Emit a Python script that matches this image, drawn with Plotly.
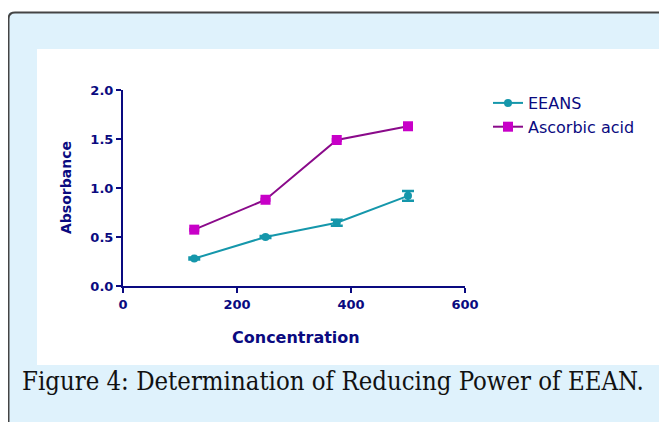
import plotly.graph_objects as go

concentration = [125, 250, 375, 500]
eeans = [0.28, 0.50, 0.645, 0.92]
eeans_err = [0.01, 0.01, 0.03, 0.05]
ascorbic = [0.575, 0.88, 1.49, 1.63]
ascorbic_err = [0.01, 0.01, 0.01, 0.01]
x_ticks = [0, 200, 400, 600]
y_ticks = [0.0, 0.5, 1.0, 1.5, 2.0]
y_tick_labels = ["0.0", "0.5", "1.0", "1.5", "2.0"]

NAVY = "#0a0a80"
TEAL = "#1597ab"
PURPLE = "#8a0a8a"
MAGENTA = "#c800c8"
BG = "#dff2fc"

OFF = 8  # page body margin
W, H = 667 - OFF, 422 - OFF
L, R, T, B = 123 - OFF, 465 - OFF, 90 - OFF, 286 - OFF
pw, ph = R - L, B - T

def px(x):
    return (x - OFF - L) / pw

def py(y):
    return (B - (y - OFF)) / ph

fig = go.Figure()
fig.add_trace(go.Scatter(
    x=concentration, y=eeans, name="EEANS", mode="lines+markers",
    line=dict(color=TEAL, width=2),
    marker=dict(symbol="circle", size=8, color=TEAL),
    error_y=dict(type="data", array=eeans_err, color=TEAL, thickness=2.5, width=6),
))
fig.add_trace(go.Scatter(
    x=concentration, y=ascorbic, name="Ascorbic acid", mode="lines+markers",
    line=dict(color=PURPLE, width=2),
    marker=dict(symbol="square", size=10, color=MAGENTA),
    error_y=dict(type="data", array=ascorbic_err, color=MAGENTA, thickness=2, width=5),
))

shapes = [
    # light blue box
    dict(type="rect", xref="paper", yref="paper", x0=px(8.5), x1=px(700), y0=py(440), y1=py(12.5),
         fillcolor=BG, line=dict(width=0), layer="below"),
    # white panel
    dict(type="rect", xref="paper", yref="paper", x0=px(37), x1=px(660), y0=py(365), y1=py(49),
         fillcolor="white", line=dict(width=0), layer="below"),
    # outer border (top + left with rounded corner)
    dict(type="path", xref="paper", yref="paper",
         path=f"M {px(8.5)},{py(440)} L {px(8.5)},{py(19)} Q {px(8.5)},{py(12.5)} {px(15)},{py(12.5)} L {px(700)},{py(12.5)}",
         line=dict(color="#444444", width=2), layer="below"),
]

annotations = [
    dict(text="<b>Concentration</b>", xref="paper", yref="paper", x=px(296), y=py(337),
         showarrow=False, font=dict(family="DejaVu Sans", size=16, color=NAVY),
         xanchor="center", yanchor="middle"),
    dict(text="<b>Absorbance</b>", xref="paper", yref="paper", x=px(66), y=py(188),
         showarrow=False, textangle=-90, font=dict(family="DejaVu Sans", size=14, color=NAVY),
         xanchor="center", yanchor="middle"),
    dict(text="Figure 4: Determination of Reducing Power of EEAN.", xref="paper", yref="paper",
         x=px(333), y=py(381), showarrow=False,
         font=dict(family="DejaVu Serif Condensed", size=25.5, color="#111111"),
         xanchor="center", yanchor="middle"),
]

axis_common = dict(
    showline=True, linecolor=NAVY, linewidth=2, ticks="outside", ticklen=5, tickwidth=2,
    tickcolor=NAVY, showgrid=False, zeroline=False, mirror=False,
    tickfont=dict(family="DejaVu Sans", size=13, color=NAVY, weight="bold"),
)

fig.update_layout(
    width=W, height=H,
    margin=dict(l=L, r=W - R, t=T, b=H - B, pad=0),
    paper_bgcolor="white", plot_bgcolor="rgba(0,0,0,0)",
    xaxis=dict(range=[0, 600], tickvals=x_ticks, **axis_common),
    yaxis=dict(range=[0, 2], tickvals=y_ticks, ticktext=y_tick_labels, **axis_common),
    showlegend=True,
    legend=dict(x=px(488), y=py(86), xanchor="left", yanchor="top",
                bgcolor="rgba(0,0,0,0)",
                font=dict(family="DejaVu Sans", size=16, color=NAVY),
                itemwidth=30, tracegroupgap=0),
    shapes=shapes, annotations=annotations,
)

fig.write_html("out.html")
